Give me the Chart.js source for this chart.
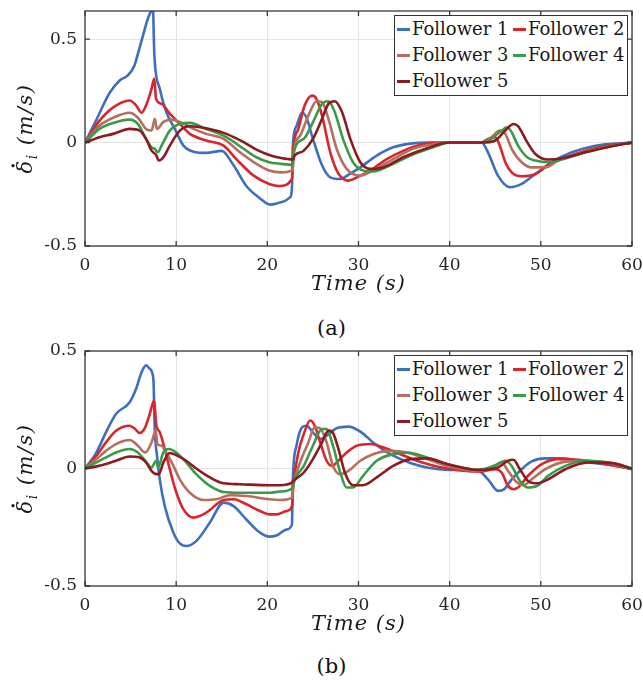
<!DOCTYPE html>
<html lang="en">
<head>
    <meta charset="UTF-8">
    <title>Follower velocity error</title>
    <style>
        body {
            margin: 0;
            padding: 0;
            background: #fff;
            font-family: "DejaVu Serif", serif;
        }

        .wrap {
            position: relative;
            width: 643px;
            height: 680px;
        }

        canvas {
            position: absolute;
            left: 0;
        }

        .legend {
            position: absolute;
            left: 394px;
            width: 234px;
            height: 81px;
            border: 1px solid #333;
            background: #fff;
            box-sizing: border-box;
        }

        .legend-item {
            position: absolute;
            font-family: "DejaVu Serif", serif;
            font-size: 18px;
            color: #1a1a1a;
            white-space: nowrap;
            line-height: 20px;
        }

        .legend-item span.swatch {
            display: inline-block;
            width: 13px;
            height: 3px;
            margin-right: 2px;
            vertical-align: middle;
            position: relative;
            top: -1px;
        }

        .caption {
            position: absolute;
            width: 643px;
            left: 10px;
            text-align: center;
            font-size: 21px;
            color: #111;
        }
    </style>
</head>
<body>
<div class="wrap">
    <canvas id="chartA" width="643" height="310" style="top:0"></canvas>
    <div class="legend" id="legendA" style="top:15px"></div>
    <div class="caption" style="top:316px">(a)</div>

    <canvas id="chartB" width="643" height="310" style="top:340px"></canvas>
    <div class="legend" id="legendB" style="top:355px"></div>
    <div class="caption" style="top:654px">(b)</div>
</div>
<script src="https://cdn.jsdelivr.net/npm/chart.js"></script>
<script>
    const labels = ['Follower 1', 'Follower 2', 'Follower 3', 'Follower 4', 'Follower 5'];
    const colors = ['#3d6fbf', '#d8262c', '#b66f5c', '#3b9a4a', '#8c1a1f'];
    const xTicks = [0, 10, 20, 30, 40, 50, 60];
    const yTicks = [-0.5, 0, 0.5];

    // (a)
    const aT1 = [0, 1.25, 2.7, 3.8, 4.7, 5.4, 6.0, 6.5, 6.9, 7.3, 7.45, 7.6, 8.2, 8.9, 9.85, 10.8, 11.9, 13.3, 15, 16.3, 17.7, 19.2, 20.3, 21.4, 22.5, 22.7, 22.8, 23.2, 23.8, 24.3, 25, 26, 26.9, 28, 29.1, 30.2, 32, 33.8, 35.7, 37.5, 40, 43.5, 44.2, 45.3, 46.6, 47.9, 49.4, 51.2, 53.4, 56, 60];
    const aV1 = [0, 0.11, 0.24, 0.30, 0.325, 0.37, 0.46, 0.54, 0.60, 0.64, 0.65, 0.43, 0.26, 0.15, 0.066, -0.015, -0.044, -0.05, -0.04, -0.11, -0.21, -0.27, -0.30, -0.29, -0.265, -0.22, -0.015, 0.08, 0.144, 0.12, 0.018, -0.11, -0.168, -0.176, -0.15, -0.12, -0.063, -0.023, -0.005, 0, 0, 0, -0.047, -0.16, -0.216, -0.2, -0.152, -0.095, -0.047, -0.015, 0];
    const aT2 = [0, 1.6, 3.1, 4.9, 5.6, 6.2, 6.7, 7.3, 7.6, 7.8, 8.4, 9.3, 10.4, 11.5, 13.3, 15.2, 16.6, 18.5, 20.2, 21.3, 22.7, 22.85, 23.4, 24.1, 24.9, 25.4, 26, 26.9, 27.8, 28.9, 30.2, 31.3, 33.1, 34.9, 36.8, 39.7, 43.5, 44.2, 45, 45.5, 46.1, 46.8, 47.9, 49.4, 50.8, 52.3, 54.9, 57.8, 60];
    const aV2 = [0, 0.106, 0.17, 0.203, 0.18, 0.144, 0.18, 0.26, 0.31, 0.21, 0.187, 0.14, 0.09, 0.042, 0.01, -0.015, -0.08, -0.16, -0.2, -0.21, -0.176, -0.03, 0.066, 0.18, 0.227, 0.21, 0.13, -0.047, -0.15, -0.184, -0.16, -0.135, -0.08, -0.04, -0.011, 0, 0, 0.018, 0.026, -0.015, -0.095, -0.144, -0.163, -0.152, -0.11, -0.079, -0.039, -0.011, 0];
    const aT3 = [0, 1.6, 3.1, 4.9, 5.8, 6.7, 7.3, 7.55, 7.65, 7.9, 8.6, 9.5, 10.4, 11.9, 13.3, 15.2, 17, 18.8, 20.2, 21.5, 22.8, 22.9, 23.6, 24.5, 25.4, 26, 26.7, 27.6, 28.7, 30.2, 31.6, 33.8, 36, 38.6, 40, 43.5, 44.6, 45.5, 46.1, 46.8, 47.9, 49, 50.5, 51.9, 54.1, 57, 60];
    const aV3 = [0, 0.082, 0.12, 0.144, 0.12, 0.066, 0.058, 0.1, 0.115, 0.066, 0.1, 0.111, 0.1, 0.066, 0.042, 0.018, -0.047, -0.103, -0.135, -0.144, -0.132, -0.047, 0.034, 0.13, 0.2, 0.195, 0.115, -0.03, -0.127, -0.16, -0.135, -0.08, -0.03, -0.006, 0, 0, 0.026, 0.058, 0.042, -0.03, -0.095, -0.12, -0.12, -0.087, -0.055, -0.023, 0];
    const aT4 = [0, 1.6, 3.1, 4.9, 5.8, 6.7, 7.3, 7.65, 8, 8.4, 9.3, 10.4, 11.5, 13.3, 15.5, 17.4, 18.8, 20.2, 21.5, 22.8, 22.9, 24, 25, 26, 26.7, 27.4, 28.3, 29.4, 30.5, 31.6, 33.5, 35.7, 38.2, 40, 43.5, 44.6, 45.7, 46.3, 46.8, 47.5, 48.5, 49.4, 50.8, 52.3, 54.9, 57.8, 60];
    const aV4 = [0, 0.066, 0.095, 0.111, 0.09, 0.018, -0.023, -0.03, -0.047, -0.015, 0.058, 0.09, 0.095, 0.066, 0.026, -0.03, -0.071, -0.095, -0.103, -0.108, -0.047, 0.018, 0.098, 0.187, 0.2, 0.147, 0.018, -0.095, -0.135, -0.14, -0.11, -0.063, -0.023, 0, 0, 0.02, 0.058, 0.074, 0.05, -0.015, -0.071, -0.087, -0.095, -0.082, -0.047, -0.015, 0];
    const aT5 = [0, 1.6, 3.1, 4.9, 6, 6.7, 7.3, 7.8, 8.1, 8.6, 9.3, 10.4, 11.5, 13.3, 15.5, 17.4, 18.8, 20.2, 21.5, 22.8, 23, 24, 25, 26, 26.7, 27.4, 28.2, 29.1, 30.2, 31.3, 32.7, 34.9, 37.5, 40, 43.5, 45, 46.1, 47, 47.5, 48.5, 49.4, 50.8, 52.3, 54.9, 57.8, 60];
    const aV5 = [0, 0.026, 0.042, 0.066, 0.058, 0.018, -0.039, -0.06, -0.087, -0.071, -0.015, 0.058, 0.079, 0.069, 0.042, 0.002, -0.034, -0.06, -0.075, -0.082, -0.063, -0.039, 0.018, 0.115, 0.187, 0.2, 0.147, 0.018, -0.095, -0.127, -0.12, -0.071, -0.027, 0, 0, 0.01, 0.058, 0.09, 0.079, 0.002, -0.055, -0.082, -0.076, -0.047, -0.018, 0];

    // (b)
    const bT1 = [0, 1.25, 2.3, 3.4, 4.9, 5.6, 6.2, 6.7, 7.1, 7.5, 7.65, 7.9, 8.2, 8.75, 9.7, 10.4, 11.1, 12.2, 13.7, 15.2, 16.3, 17.7, 19.2, 20.2, 21, 22.1, 22.7, 22.8, 23.2, 23.8, 24.3, 25, 25.8, 26.5, 27.6, 28.9, 30.2, 31.6, 33.5, 35.7, 37.5, 40, 43.2, 44.2, 45.3, 45.9, 46.8, 47.9, 49, 50.5, 52.3, 54.9, 57.1, 60];
    const bV1 = [0, 0.068, 0.154, 0.232, 0.282, 0.339, 0.41, 0.439, 0.424, 0.38, 0.168, 0.054, -0.046, -0.16, -0.273, -0.319, -0.33, -0.309, -0.23, -0.145, -0.16, -0.217, -0.273, -0.29, -0.285, -0.26, -0.238, -0.046, 0.097, 0.175, 0.182, 0.154, 0.125, 0.14, 0.171, 0.178, 0.157, 0.111, 0.061, 0.023, 0.004, -0.006, -0.011, -0.046, -0.095, -0.09, -0.046, -0.003, 0.03, 0.043, 0.043, 0.028, 0.017, 0];
    const bT2 = [0, 1.25, 2.3, 3.4, 4.9, 5.5, 6, 6.6, 7.1, 7.6, 7.8, 8.2, 8.75, 9.3, 10, 10.8, 11.9, 13.3, 15.2, 16.3, 17.7, 19.2, 20.2, 21, 22.1, 22.7, 22.85, 23.4, 24, 24.7, 25.2, 25.8, 26.5, 27.1, 27.8, 28.7, 29.8, 31.3, 32.7, 34.6, 36.8, 39.7, 43.2, 45, 45.7, 46.4, 47, 47.5, 48.6, 50.1, 51.9, 54.1, 56.7, 60];
    const bV2 = [0, 0.054, 0.111, 0.161, 0.182, 0.168, 0.151, 0.175, 0.232, 0.29, 0.19, 0.154, 0.083, -0.003, -0.1, -0.174, -0.209, -0.188, -0.134, -0.131, -0.152, -0.181, -0.195, -0.195, -0.181, -0.16, -0.074, 0.068, 0.147, 0.204, 0.182, 0.111, 0.033, 0.011, 0.033, 0.068, 0.097, 0.104, 0.09, 0.061, 0.028, 0, -0.013, -0.003, -0.017, -0.074, -0.088, -0.081, -0.031, 0.019, 0.04, 0.037, 0.023, -0.003];
    const bT3 = [0, 1.25, 2.3, 3.4, 4.9, 5.8, 6.6, 7.3, 7.75, 7.95, 8.4, 8.9, 9.7, 10.4, 11.5, 13, 14.4, 15.9, 17.7, 20.2, 21.4, 22.7, 22.85, 23.6, 24.5, 25.2, 25.8, 26.5, 27.2, 28, 28.9, 30.2, 31.6, 33.5, 35.3, 37.5, 39.7, 43.2, 45, 45.7, 46.4, 47.4, 48.1, 49, 50.5, 52.3, 54.9, 57.4, 60];
    const bV3 = [0, 0.04, 0.075, 0.104, 0.121, 0.097, 0.068, 0.111, 0.161, 0.104, 0.097, 0.068, 0.011, -0.046, -0.103, -0.134, -0.131, -0.114, -0.117, -0.131, -0.134, -0.124, -0.074, 0.026, 0.111, 0.175, 0.171, 0.111, 0.011, -0.024, -0.01, 0.033, 0.061, 0.075, 0.068, 0.04, 0.011, -0.01, 0.011, 0.026, -0.01, -0.06, -0.071, -0.046, -0.003, 0.026, 0.033, 0.023, -0.003];
    const bT4 = [0, 1.25, 2.3, 3.4, 4.9, 5.8, 6.6, 7.3, 7.65, 7.85, 8, 8.6, 9.2, 10, 11.1, 12.2, 13.7, 15.2, 17, 20.2, 21.4, 22.7, 22.85, 24, 25, 26, 26.5, 27.2, 28, 28.7, 29.4, 30.5, 32, 33.8, 35.3, 37.5, 39.7, 43.2, 45, 46.1, 46.8, 47.7, 48.6, 49.6, 50.8, 52.7, 54.9, 57.4, 60];
    const bV4 = [0, 0.026, 0.047, 0.068, 0.083, 0.068, 0.033, 0.004, 0.026, 0.033, 0.004, 0.068, 0.083, 0.068, 0.026, -0.024, -0.074, -0.1, -0.103, -0.103, -0.098, -0.085, -0.06, 0.011, 0.097, 0.168, 0.168, 0.097, -0.017, -0.081, -0.081, -0.031, 0.033, 0.061, 0.068, 0.047, 0.019, -0.006, 0.014, 0.033, 0.011, -0.053, -0.081, -0.074, -0.031, 0.011, 0.033, 0.026, 0];
    const bT5 = [0, 1.25, 2.3, 3.4, 4.9, 6, 6.7, 7.3, 7.8, 8.1, 8.6, 9.3, 10, 11.1, 12.2, 13.7, 15.2, 17, 20.2, 21.4, 22.7, 22.85, 24, 25, 26, 26.7, 27.1, 27.8, 28.5, 29.4, 30.5, 32, 33.8, 35.7, 37.5, 39.7, 43.2, 45.3, 46.4, 47, 47.7, 48.6, 49.6, 50.8, 52.7, 55.2, 57.8, 60];
    const bV5 = [0, 0.009, 0.019, 0.033, 0.051, 0.047, 0.026, -0.01, -0.024, -0.024, 0.026, 0.066, 0.057, 0.033, 0, -0.038, -0.063, -0.067, -0.071, -0.071, -0.06, -0.053, -0.017, 0.04, 0.111, 0.161, 0.157, 0.083, -0.017, -0.071, -0.071, -0.038, 0.011, 0.04, 0.043, 0.019, -0.006, 0.004, 0.033, 0.037, -0.003, -0.053, -0.063, -0.046, -0.003, 0.026, 0.023, 0];

    const serif = "'DejaVu Serif', serif";
    const tickFont = { family: serif, size: 17 };
    const inkColor = '#262626';

    // box around the axes, inward ticks, axis titles
    const framePlugin = {
        id: 'frame',
        afterDraw(chart) {
            const ctx = chart.ctx;
            const a = chart.chartArea;
            const xs = chart.scales.x;
            const ys = chart.scales.y;
            ctx.save();
            ctx.strokeStyle = '#3a3a3a';
            ctx.lineWidth = 1.3;
            ctx.strokeRect(a.left, a.top, a.right - a.left, a.bottom - a.top);
            ctx.beginPath();
            xTicks.forEach(v => {
                const px = xs.getPixelForValue(v);
                ctx.moveTo(px, a.bottom); ctx.lineTo(px, a.bottom - 5);
                ctx.moveTo(px, a.top); ctx.lineTo(px, a.top + 5);
            });
            yTicks.forEach(v => {
                const py = ys.getPixelForValue(v);
                ctx.moveTo(a.left, py); ctx.lineTo(a.left + 5, py);
                ctx.moveTo(a.right, py); ctx.lineTo(a.right - 5, py);
            });
            ctx.stroke();

            ctx.fillStyle = '#1a1a1a';
            // x title
            ctx.font = 'italic 21px ' + serif;
            ctx.letterSpacing = '1px';
            ctx.textAlign = 'center';
            ctx.textBaseline = 'middle';
            ctx.fillText('Time (s)', (a.left + a.right) / 2, 285);

            // y title: delta with a dot, subscript i, units
            const parts = [
                { t: 'δ', f: 'italic 21px ' + serif, dy: 0 },
                { t: 'i', f: 'italic 14px ' + serif, dy: 6 },
                { t: ' (m/s)', f: 'italic 21px ' + serif, dy: 0 }
            ];
            ctx.letterSpacing = '1.5px';
            let w = 0;
            parts.forEach(p => { ctx.font = p.f; p.w = ctx.measureText(p.t).width; w += p.w; });
            ctx.translate(27, (a.top + a.bottom) / 2);
            ctx.rotate(-Math.PI / 2);
            ctx.textAlign = 'left';
            let x = -w / 2;
            parts.forEach((p, i) => {
                ctx.font = p.f;
                ctx.fillText(p.t, x, p.dy);
                if (i === 0) {
                    ctx.beginPath();
                    ctx.arc(x + p.w * 0.55, -14, 1.6, 0, Math.PI * 2);
                    ctx.fill();
                }
                x += p.w;
            });
            ctx.restore();
        }
    };

    function makeChart(id, times, values, yMax) {
        const datasets = labels.map((lab, i) => ({
            label: lab,
            data: times[i].map((t, k) => ({ x: t, y: values[i][k] })),
            borderColor: colors[i],
            backgroundColor: colors[i],
            borderWidth: 2.6,
            pointRadius: 0,
            cubicInterpolationMode: 'monotone',
            order: labels.length - i
        }));
        return new Chart(document.getElementById(id), {
            type: 'line',
            data: { datasets },
            options: {
                responsive: false,
                animation: false,
                layout: { padding: { left: 0, right: 11, top: 11, bottom: 0 } },
                plugins: { legend: { display: false }, tooltip: { enabled: false } },
                scales: {
                    x: {
                        type: 'linear',
                        min: 0,
                        max: 60,
                        afterBuildTicks: s => { s.ticks = xTicks.map(v => ({ value: v })); },
                        afterFit: s => { s.height = 64; s.paddingLeft = 0; s.paddingRight = 0; },
                        grid: { color: '#e4e4e4', drawTicks: false },
                        border: { display: false },
                        ticks: { font: tickFont, color: inkColor, padding: 9, maxRotation: 0 }
                    },
                    y: {
                        min: -0.5,
                        max: yMax,
                        afterBuildTicks: s => { s.ticks = yTicks.map(v => ({ value: v })); },
                        afterFit: s => { s.width = 85; s.paddingTop = 0; s.paddingBottom = 0; },
                        grid: { color: '#e4e4e4', drawTicks: false },
                        border: { display: false },
                        ticks: { font: tickFont, color: inkColor, padding: 8, callback: v => String(v) }
                    }
                }
            },
            plugins: [framePlugin]
        });
    }

    function makeLegend(id) {
        const box = document.getElementById(id);
        labels.forEach((lab, i) => {
            const item = document.createElement('div');
            item.className = 'legend-item';
            item.style.left = (2 + (i % 2) * 116) + 'px';
            item.style.top = (3 + Math.floor(i / 2) * 26) + 'px';
            item.innerHTML = '<span class="swatch" style="background:' + colors[i] + '"></span>' + lab;
            box.appendChild(item);
        });
    }

    makeChart('chartA', [aT1, aT2, aT3, aT4, aT5], [aV1, aV2, aV3, aV4, aV5], 0.636);
    makeChart('chartB', [bT1, bT2, bT3, bT4, bT5], [bV1, bV2, bV3, bV4, bV5], 0.5);
    makeLegend('legendA');
    makeLegend('legendB');
</script>
</body>
</html>
